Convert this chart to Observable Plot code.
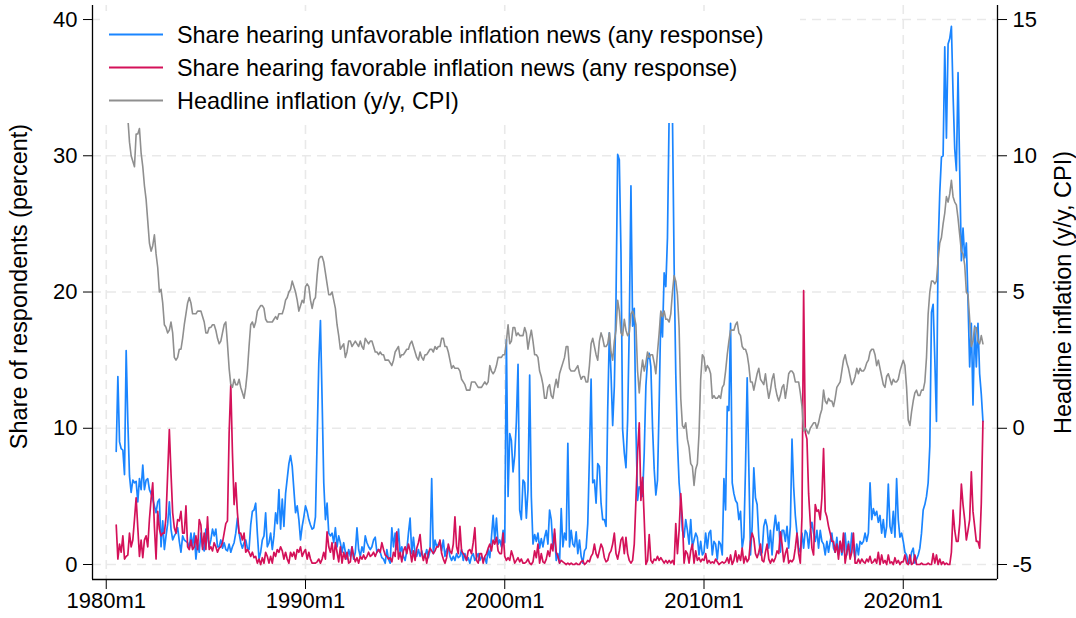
<!DOCTYPE html>
<html><head><meta charset="utf-8">
<script src="https://cdn.jsdelivr.net/npm/d3@7"></script>
<script src="https://cdn.jsdelivr.net/npm/@observablehq/plot@0.6"></script>
<style>
html,body{margin:0;padding:0;background:#fff;}
#wrap{position:relative;width:1076px;height:618px;font-family:"Liberation Sans",Arial,Helvetica,sans-serif;}
#legend{position:absolute;left:100px;top:11px;width:700px;height:112px;background:#fff;}
#legend .row{position:absolute;left:0;height:30px;width:700px;}
#legend svg{position:absolute;left:9px;top:0;}
#legend span{position:absolute;left:77px;top:1px;font-size:23.4px;line-height:26px;color:#000;white-space:nowrap;}
</style></head>
<body><div id="wrap"><div id="chart"></div><div id="legend"></div></div>
<script>
// monthly series, first month 1980m7, last month 2024m1
const firstYear = 1980, firstMonth = 7;
const seriesNames = ["Share hearing unfavorable inflation news (any response)",
                     "Share hearing favorable inflation news (any response)",
                     "Headline inflation (y/y, CPI)"];
const seriesColors = ["#1A85FF", "#D41159", "#8F8F8F"];
const xTickYears = [1980, 1990, 2000, 2010, 2020];
const leftTicks = [0, 10, 20, 30, 40];
const rightTicks = [-5, 0, 5, 10, 15];

const unfavorable = [
 8.3,13.8,9.0,8.5,8.4,6.6,
 15.7,10.5,6.5,5.3,6.2,6.0,6.1,4.6,6.3,5.5,7.3,5.5,
 6.2,6.3,5.5,5.2,4.8,4.3,3.8,4.6,4.8,1.3,3.2,1.1,
 2.1,3.0,4.6,2.6,1.8,2.1,2.3,2.7,1.7,0.9,2.1,1.8,
 1.7,1.6,1.2,2.3,1.3,2.3,0.4,1.6,0.9,2.3,1.3,1.0,
 2.6,2.1,1.3,1.8,2.6,2.1,2.6,1.3,1.3,1.8,1.2,1.6,
 1.1,1.0,1.5,0.9,1.3,1.6,2.3,3.4,2.3,1.6,1.2,1.6,
 1.8,1.2,1.1,2.9,3.9,4.0,4.5,2.3,0.4,0.9,1.8,2.1,
 3.8,1.3,1.6,2.3,1.1,2.1,3.8,3.0,5.5,2.6,4.8,2.8,
 5.2,6.3,7.4,8.0,7.2,5.5,3.8,4.3,3.3,1.8,2.8,3.5,
 4.3,3.9,3.3,2.9,2.6,2.7,3.5,9.1,14.8,17.9,12.1,6.0,
 3.3,4.5,2.3,2.1,2.3,1.6,2.7,1.3,2.1,1.6,0.9,1.6,
 0.9,0.4,1.1,0.6,1.3,0.4,0.9,2.7,1.1,0.6,1.3,0.9,
 2.1,1.6,1.3,1.1,1.3,1.8,2.0,0.9,1.1,0.9,0.5,0.4,
 0.1,1.1,0.4,0.1,2.7,1.3,2.3,1.1,2.6,0.8,1.3,0.6,
 0.3,1.0,2.3,3.4,0.8,2.0,0.8,0.6,1.1,0.6,1.0,0.5,
 0.6,1.1,0.5,1.0,6.3,0.8,1.8,1.3,1.5,1.7,1.0,1.8,
 0.6,1.1,1.3,0.6,0.3,0.6,0.3,0.8,0.5,0.6,1.1,0.3,
 0.8,0.3,0.5,0.1,0.6,0.8,0.3,0.5,0.8,0.3,0.6,0.4,
 0.5,0.1,1.1,0.5,2.0,3.6,1.8,3.4,1.5,1.8,1.3,2.5,
 1.6,16.5,5.0,9.6,9.1,6.8,8.0,10.5,14.7,4.0,3.3,6.2,
 6.0,3.4,5.5,13.9,5.0,1.5,2.2,1.7,2.3,1.2,1.9,1.3,
 2.0,2.5,1.5,4.0,3.3,1.3,2.3,0.3,0.8,0.1,4.1,1.3,
 2.3,1.8,8.9,1.3,2.5,1.5,1.3,2.4,0.8,1.8,0.6,0.1,
 1.0,1.2,3.0,8.0,13.6,6.0,6.2,4.5,7.4,7.2,4.5,3.3,
 3.3,2.8,11.3,17.0,14.0,10.2,13.1,19.4,30.1,29.7,22.9,9.9,
 8.2,7.1,10.6,17.5,27.8,17.5,18.8,10.0,4.7,5.7,5.5,5.0,
 8.2,13.1,15.0,15.5,14.5,10.1,7.0,5.1,6.2,11.8,18.5,16.7,
 21.4,20.4,24.0,33.0,35.0,33.0,22.0,14.0,9.0,6.0,4.5,2.5,
 2.0,3.3,2.5,1.5,3.3,1.3,1.8,2.3,2.0,0.7,1.7,0.7,
 0.9,2.3,1.2,2.3,2.5,0.7,1.7,1.5,0.4,1.7,1.5,0.7,
 6.3,4.0,11.6,11.3,17.7,6.0,5.2,4.7,4.5,3.3,3.9,1.2,
 2.0,7.1,13.7,7.1,0.7,2.8,7.1,4.9,4.4,2.0,0.7,0.9,
 2.8,3.3,2.8,1.2,2.5,0.7,2.5,3.6,2.5,3.1,0.9,2.5,
 2.5,1.7,2.8,1.2,2.8,9.2,5.7,3.6,2.3,1.2,0.9,2.3,
 1.2,2.5,2.3,1.2,2.5,3.1,2.3,1.7,2.5,1.2,2.5,1.7,
 1.5,0.7,1.7,0.9,1.7,2.3,1.2,0.9,2.0,0.7,1.7,0.7,
 1.2,2.3,0.7,1.7,0.7,2.3,1.2,0.4,1.5,0.7,1.7,1.5,
 1.7,2.3,1.7,2.3,6.0,3.3,4.1,3.6,3.9,3.1,3.6,2.3,
 3.3,2.0,2.8,5.9,2.8,2.3,3.9,2.0,6.3,3.3,2.0,2.3,
 1.7,0.9,0.7,0.1,0.1,0.9,1.2,0.1,0.4,0.7,1.2,2.3,
 4.0,4.4,5.0,6.0,8.7,18.5,19.1,15.1,10.5,23.3,27.3,29.9,
 30.0,38.0,31.3,38.2,38.6,39.5,34.5,30.5,28.9,36.1,28.9,22.3,
 24.7,22.5,23.6,19.3,14.5,17.7,11.7,17.5,14.5,17.7,14.0,12.5,
 10.5
];

const favorable = [
 2.9,0.4,1.5,0.9,2.1,0.4,
 0.6,0.7,2.3,1.3,1.8,3.3,4.9,2.7,0.6,1.8,0.5,1.8,
 2.1,1.3,3.3,4.8,6.0,2.8,0.4,3.9,2.6,2.1,2.3,2.3,
 3.5,6.7,9.9,6.7,3.8,2.7,2.3,3.3,3.2,3.9,2.3,2.3,
 4.3,1.3,1.1,1.8,1.1,1.3,2.1,1.1,3.3,2.9,1.1,2.3,
 1.1,3.5,1.1,1.3,1.0,1.6,1.3,0.9,1.2,1.3,1.6,2.3,
 3.0,3.2,9.6,13.2,8.2,4.4,6.0,3.8,2.3,2.3,1.8,2.3,
 0.9,1.1,0.9,0.6,0.9,0.5,0.6,0.1,0.4,0.0,0.5,0.1,
 0.9,0.6,0.1,0.6,0.1,0.9,0.6,1.1,0.9,1.3,1.0,0.4,
 0.9,0.4,0.1,0.9,0.6,0.9,0.4,1.1,0.9,1.3,0.6,0.9,
 1.1,0.4,0.9,0.4,0.1,0.1,0.1,0.2,0.4,0.1,0.4,0.9,
 0.4,2.4,1.3,0.9,1.6,0.4,1.6,0.9,0.2,1.3,0.1,0.9,
 0.4,0.9,0.1,0.2,1.3,0.6,0.2,0.5,0.1,0.6,0.4,0.7,
 0.4,0.6,0.9,0.6,0.7,0.9,0.6,0.9,1.1,0.9,1.6,1.1,
 0.7,0.6,0.4,0.5,0.2,0.9,0.6,2.4,0.4,0.9,0.2,1.0,
 1.3,0.8,1.5,1.0,0.2,1.0,0.3,1.2,1.6,2.2,0.8,0.3,
 0.8,0.1,0.8,1.2,1.0,0.8,1.0,1.3,1.3,1.8,0.8,0.4,
 0.1,0.5,1.5,1.0,0.8,1.5,3.5,1.3,0.8,2.8,1.0,0.8,
 0.6,0.3,1.0,1.1,0.8,1.6,2.7,0.3,0.1,0.8,0.8,0.1,
 0.6,0.8,1.2,1.5,1.0,1.8,1.5,2.0,1.0,0.8,0.8,2.3,
 0.6,0.3,0.5,0.3,1.0,0.6,0.1,0.3,0.5,0.2,0.4,0.1,
 0.1,0.2,0.4,0.1,0.0,0.2,1.0,0.5,1.5,0.1,0.8,0.2,
 0.1,0.4,1.0,0.6,1.5,1.0,2.6,0.9,0.6,0.1,0.3,0.2,
 0.1,0.0,0.1,0.0,0.1,0.0,0.0,0.1,0.0,0.0,0.2,0.3,
 0.0,0.1,0.3,0.2,0.6,0.8,1.5,0.8,0.5,1.0,1.5,1.2,
 0.5,0.2,0.3,0.8,1.0,1.5,2.3,0.8,0.4,1.0,1.8,2.0,
 0.8,2.0,0.8,0.3,0.1,0.3,1.5,4.7,8.2,10.4,4.7,6.4,
 3.3,0.0,0.3,2.2,0.3,0.1,0.4,0.3,0.6,0.3,0.5,0.3,
 0.1,0.3,0.1,0.3,0.1,0.3,0.0,3.0,0.8,2.5,5.2,3.3,
 0.1,1.0,0.8,0.1,1.0,1.5,0.1,1.0,0.3,0.5,0.2,0.4,
 0.3,0.8,0.1,0.3,0.1,0.2,0.1,0.4,0.2,0.0,0.1,0.2,
 0.1,0.2,0.5,0.1,0.7,0.0,0.3,1.0,0.2,0.7,0.3,1.2,
 0.1,0.6,0.2,0.4,1.7,2.3,1.9,0.8,0.5,0.9,1.5,0.3,
 0.2,0.9,1.5,0.4,0.1,0.4,0.2,0.5,1.0,0.8,2.4,1.5,
 0.2,0.8,1.2,0.1,0.3,0.2,0.4,1.2,2.3,0.8,0.1,3.5,
 20.1,9.7,9.2,5.2,3.1,1.2,0.7,4.4,3.9,4.0,3.3,4.9,
 8.5,3.9,3.5,2.8,2.3,1.7,1.7,0.9,1.5,0.4,1.7,0.9,
 2.3,0.1,0.9,1.5,0.4,0.9,2.3,0.1,0.1,0.4,0.1,0.4,
 0.2,0.1,0.4,0.2,0.6,0.1,0.2,0.4,0.1,0.9,0.0,0.7,
 0.1,0.3,0.0,0.7,0.1,0.2,0.0,0.5,0.1,0.3,0.0,0.2,
 0.2,0.7,0.1,0.0,0.7,0.0,0.1,0.7,0.0,0.0,0.0,0.1,
 0.0,0.0,0.0,0.1,0.0,0.0,0.8,0.1,0.7,0.0,0.4,0.0,
 0.2,0.0,0.1,0.0,0.0,0.9,4.0,2.5,1.7,1.7,3.0,5.9,
 4.4,3.3,1.8,2.5,3.3,6.8,3.9,2.8,1.7,1.7,1.2,4.5,
 10.5
];

// headline CPI inflation, percent y/y (right axis)
const inflation = [
 13.1,12.9,12.6,12.8,12.6,12.5,
 11.8,11.4,10.5,10.0,9.8,9.6,10.8,10.8,11.0,10.1,9.6,8.9,
 8.4,7.6,6.8,6.5,6.7,7.1,6.4,5.9,5.0,5.1,4.6,3.8,
 3.7,3.5,3.6,3.9,3.5,2.6,2.5,2.6,2.9,2.9,3.3,3.8,
 4.2,4.6,4.8,4.6,4.2,4.2,4.2,4.3,4.3,4.3,4.1,3.9,
 3.5,3.5,3.7,3.7,3.8,3.8,3.6,3.3,3.1,3.2,3.5,3.8,
 3.9,3.1,2.2,1.6,1.5,1.8,1.6,1.6,1.8,1.5,1.3,1.1,
 1.5,2.1,3.0,3.8,3.9,3.7,3.9,4.3,4.4,4.5,4.5,4.4,
 4.0,3.9,3.9,3.9,3.9,4.0,4.1,4.0,4.2,4.2,4.2,4.4,
 4.7,4.8,5.0,5.1,5.4,5.2,5.0,4.7,4.3,4.5,4.7,4.6,
 5.2,5.3,5.2,4.7,4.4,4.7,4.8,5.6,6.2,6.3,6.3,6.1,
 5.7,5.3,4.9,4.9,5.0,4.7,4.4,3.8,3.4,2.9,3.0,3.1,
 2.6,2.8,3.2,3.2,3.0,3.1,3.2,3.1,3.0,3.2,3.0,2.9,
 3.3,3.2,3.1,3.2,3.2,3.0,2.8,2.8,2.7,2.8,2.7,2.7,
 2.5,2.5,2.5,2.4,2.3,2.5,2.8,2.9,3.0,2.6,2.7,2.7,
 2.8,2.9,2.9,3.1,3.2,3.0,2.8,2.6,2.5,2.8,2.6,2.5,
 2.7,2.7,2.8,2.9,2.9,2.8,3.0,2.9,3.0,3.0,3.3,3.3,
 3.0,3.0,2.8,2.5,2.2,2.3,2.2,2.2,2.2,2.1,1.8,1.7,
 1.6,1.4,1.4,1.4,1.7,1.7,1.7,1.6,1.5,1.5,1.5,1.6,
 1.7,1.6,1.7,2.3,2.1,2.0,2.1,2.3,2.6,2.6,2.6,2.7,
 2.7,3.2,3.8,3.1,3.2,3.7,3.7,3.4,3.5,3.4,3.4,3.4,
 3.7,3.5,2.9,3.3,3.6,3.2,2.7,2.7,2.6,2.1,1.9,1.6,
 1.1,1.1,1.5,1.6,1.2,1.1,1.5,1.8,1.5,2.0,2.2,2.4,
 2.6,3.0,3.0,2.2,2.1,2.1,2.1,2.2,2.3,2.0,1.8,1.9,
 1.9,1.7,1.7,2.3,3.1,3.3,3.0,2.7,2.5,3.2,3.5,3.3,
 3.0,3.0,3.1,3.5,2.8,2.5,3.2,3.6,4.7,4.3,3.5,3.4,
 4.0,3.6,3.4,3.5,4.2,4.3,4.1,3.8,2.1,1.3,2.0,2.5,
 2.1,2.4,2.8,2.6,2.7,2.7,2.4,2.0,2.8,3.5,4.3,4.1,
 4.3,4.0,4.0,3.9,4.2,5.0,5.6,5.4,4.9,3.7,1.1,0.1,
 0.0,0.2,-0.4,-0.7,-1.3,-1.4,-2.1,-1.5,-1.3,-0.2,1.8,2.7,
 2.6,2.1,2.3,2.2,2.0,1.1,1.2,1.1,1.1,1.2,1.1,1.5,
 1.6,2.1,2.7,3.2,3.6,3.6,3.6,3.8,3.9,3.5,3.4,3.0,
 2.9,2.9,2.7,2.3,1.7,1.7,1.4,1.7,2.0,2.2,1.8,1.7,
 1.6,2.0,1.5,1.1,1.4,1.8,2.0,1.5,1.2,1.0,1.2,1.5,
 1.6,1.1,1.5,2.0,2.1,2.1,2.0,1.7,1.7,1.7,1.3,0.8,
 -0.1,0.0,-0.1,-0.2,0.0,0.1,0.2,0.2,0.0,0.2,0.5,0.7,
 1.4,1.0,0.9,1.1,1.0,1.0,0.8,1.1,1.5,1.6,1.7,2.1,
 2.5,2.7,2.4,2.2,1.9,1.6,1.7,1.9,2.2,2.0,2.2,2.1,
 2.1,2.2,2.4,2.5,2.8,2.9,2.9,2.7,2.3,2.5,2.2,1.9,
 1.6,1.5,1.9,2.0,1.8,1.6,1.8,1.7,1.7,1.8,2.1,2.3,
 2.5,2.3,1.5,0.3,0.1,0.6,1.0,1.3,1.4,1.2,1.2,1.4,
 1.4,1.7,2.6,4.2,5.0,5.4,5.4,5.3,5.4,6.2,6.8,7.0,
 7.5,7.9,8.5,8.3,8.6,9.1,8.5,8.3,8.2,7.7,7.1,6.5,
 6.4,6.0,5.0,4.9,4.0,3.0,3.2,3.7,3.7,3.2,3.1,3.4,
 3.1
];

// right axis (-5..15) is drawn on the left scale (0..40): left = 2*(right+5)
const toLeft = v => 2 * (v + 5);

const rows = unfavorable.map((u, i) => {
  const m = firstMonth - 1 + i;
  return {
    t: firstYear + Math.floor(m / 12) + (m % 12) / 12,
    unfav: u,
    fav: favorable[i],
    infl: toLeft(inflation[i])
  };
});

const font = '"Liberation Sans", Arial, Helvetica, sans-serif';
const gridStyle = {stroke: "#e9e9e9", strokeOpacity: 1, strokeWidth: 1.6, strokeDasharray: "9,6"};
const xDomain = [1979.31, 2024.73];
const yDomain = [-1.1, 41.03];

const chart = Plot.plot({
  width: 1076, height: 618,
  marginLeft: 92, marginRight: 79, marginTop: 5, marginBottom: 39,
  style: {fontFamily: font, fontSize: "22px", background: "#fff", color: "#000", overflow: "visible"},
  x: {type: "linear", domain: xDomain},
  y: {type: "linear", domain: yDomain},
  marks: [
    Plot.gridY(leftTicks, gridStyle),
    Plot.gridX(xTickYears, gridStyle),
    Plot.lineY(rows, {x: "t", y: "unfav", stroke: seriesColors[0], strokeWidth: 1.7}),
    Plot.lineY(rows, {x: "t", y: "fav", stroke: seriesColors[1], strokeWidth: 1.7}),
    Plot.lineY(rows, {x: "t", y: "infl", stroke: seriesColors[2], strokeWidth: 1.6}),
    Plot.ruleX([xDomain[0]], {stroke: "#000", strokeWidth: 1.3}),
    Plot.ruleX([xDomain[1]], {stroke: "#000", strokeWidth: 1.3}),
    Plot.ruleY([yDomain[0]], {stroke: "#000", strokeWidth: 1.3}),
    Plot.axisY(leftTicks, {anchor: "left", tickSize: 9, tickPadding: 6, label: null, fontSize: 22}),
    Plot.axisY(leftTicks, {anchor: "right", tickSize: 9, tickPadding: 6, label: null, fontSize: 22,
      tickFormat: (d, i) => String(rightTicks[i])}),
    Plot.axisX(xTickYears, {anchor: "bottom", tickSize: 10, tickPadding: 3, label: null, fontSize: 22,
      tickFormat: d => `${d}m1`}),
    Plot.text(["Share of respondents (percent)"], {frameAnchor: "left", textAnchor: "middle", lineAnchor: "middle",
      dx: -73, dy: -6, rotate: -90, fontSize: 23.5}),
    Plot.text(["Headline inflation (y/y, CPI)"], {frameAnchor: "right", textAnchor: "middle", lineAnchor: "middle",
      dx: 66, dy: 0, rotate: -90, fontSize: 23.5})
  ]
});
document.getElementById("chart").appendChild(chart);

// legend (drawn over the plot with a white box, like the original)
const legend = document.getElementById("legend");
seriesNames.forEach((name, i) => {
  const row = document.createElement("div");
  row.className = "row";
  row.style.top = (10 + i * 33) + "px";
  row.innerHTML = `<svg width="56" height="30"><line x1="0" x2="54" y1="13.5" y2="13.5" stroke="${seriesColors[i]}" stroke-width="2"/></svg><span>${name}</span>`;
  legend.appendChild(row);
});
</script>
</body></html>
